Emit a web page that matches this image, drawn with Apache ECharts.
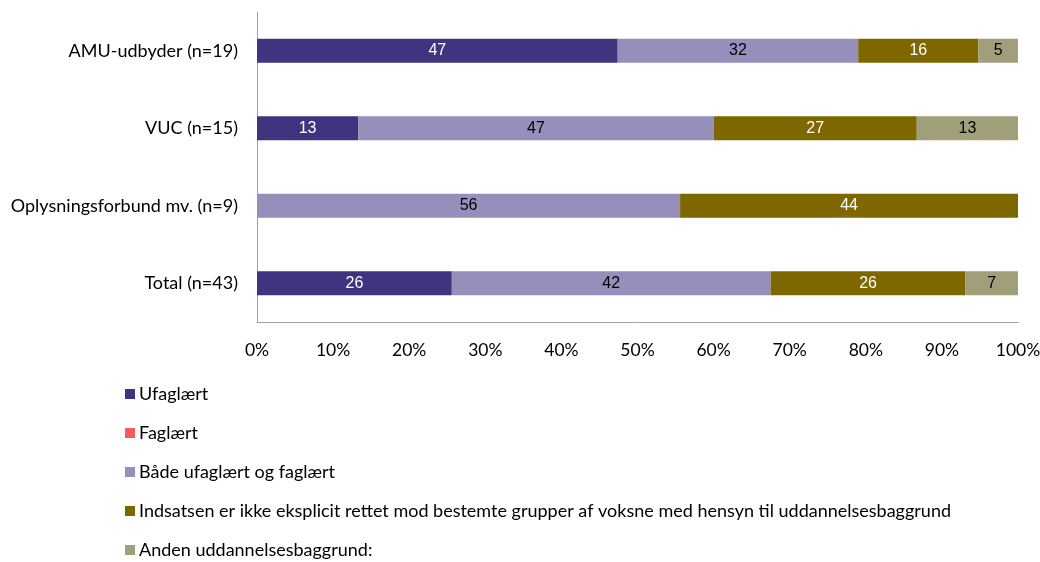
<!DOCTYPE html>
<html><head><meta charset="utf-8">
<script src="https://cdn.jsdelivr.net/npm/echarts@6/dist/echarts.min.js"></script>
<style>html,body{margin:0;padding:0;background:#fff}#c{width:1040px;height:562px}</style>
</head><body><div id="c"></div>
<script>
const categories = ['AMU-udbyder (n=19)', 'VUC (n=15)', 'Oplysningsforbund mv. (n=9)', 'Total (n=43)'];
const seriesNames = ['Ufaglært', 'Faglært', 'Både ufaglært og faglært', 'Indsatsen er ikke eksplicit rettet mod bestemte grupper af voksne med hensyn til uddannelsesbaggrund', 'Anden uddannelsesbaggrund:'];
const ufaglaert = [47.4, 13.3, 0, 25.6];
const faglaert = [0, 0, 0, 0];
const begge = [31.6, 46.7, 55.6, 41.9];
const indsatsen = [15.8, 26.7, 44.4, 25.6];
const anden = [5.3, 13.3, 0, 7.0];
const xTicks = [0, 10, 20, 30, 40, 50, 60, 70, 80, 90, 100];

const colors = ['#403480', '#F55B5B', '#968EBB', '#7F6700', '#A09F7A'];
const labelColors = ['#fff', '#fff', '#000', '#fff', '#000'];
const data = [ufaglaert, faglaert, begge, indsatsen, anden];
const font = 'Lato';

const chart = echarts.init(document.getElementById('c'));
chart.setOption({
  animation: false,
  color: colors,
  grid: { left: 257, right: 22, top: 12, bottom: 240, containLabel: false, outerBoundsMode: 'none' },
  legend: {
    orient: 'vertical', left: 120, top: 380, height: 200, itemWidth: 10, itemHeight: 10, itemGap: 21,
    icon: 'rect',
    textStyle: { fontFamily: font, fontSize: 18, color: '#000', padding: [0, 0, 0, -1] },
    data: seriesNames
  },
  xAxis: {
    type: 'value', min: 0, max: 100, interval: 10,
    axisLine: { show: true, lineStyle: { color: '#a0a0a0', width: 1 } },
    axisTick: { show: false },
    splitLine: { show: false },
    axisLabel: { margin: 19, fontFamily: font, fontSize: 17.5, color: '#000', formatter: v => xTicks.includes(v) ? v + '%' : '' }
  },
  yAxis: {
    type: 'category', inverse: true, data: categories,
    axisLine: { show: true, lineStyle: { color: '#a0a0a0', width: 1 } },
    axisTick: { show: false },
    axisLabel: { margin: 19, fontFamily: font, fontSize: 18, color: '#000' }
  },
  series: seriesNames.map((n, i) => ({
    name: n, type: 'bar', stack: 'a', barWidth: 24,
    data: data[i],
    itemStyle: { color: colors[i] },
    label: {
      show: true, position: 'inside', fontFamily: 'Liberation Sans', fontSize: 16, color: labelColors[i],
      formatter: p => p.value > 0 ? Math.round(p.value) : ''
    }
  }))
});
</script></body></html>
